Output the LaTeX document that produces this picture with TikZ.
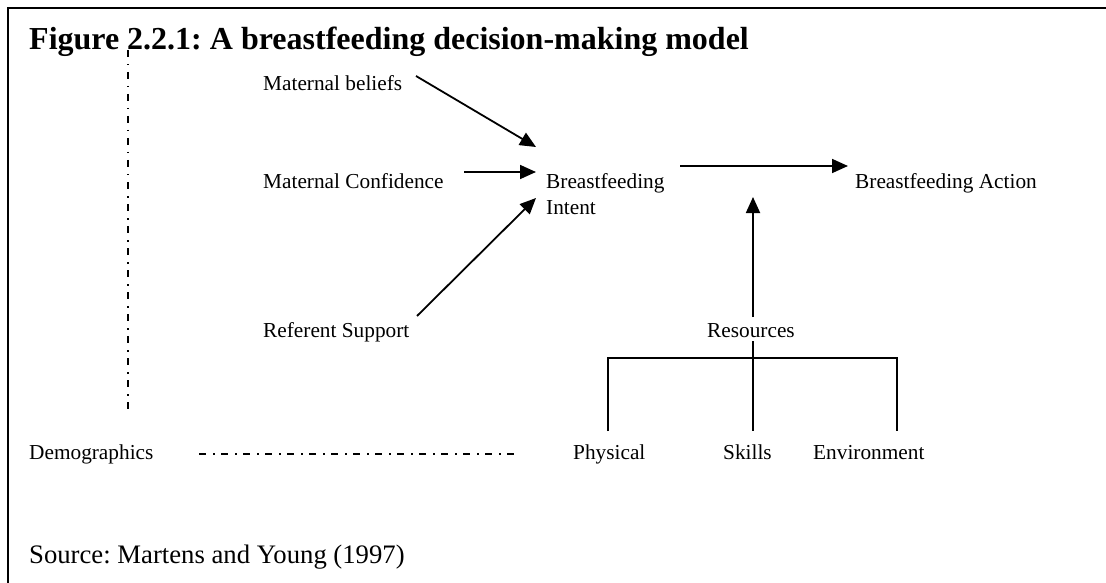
\documentclass[tikz,border=0pt]{standalone}
\usepackage{fontspec}
\setmainfont{Liberation Serif}
\usetikzlibrary{arrows.meta}
\frenchspacing
\begin{document}
\begin{tikzpicture}[x=1pt,y=-1pt,
  lbl/.style={anchor=base west,inner sep=0pt,font=\fontsize{21.3}{25}\selectfont},
  ttl/.style={anchor=base west,inner sep=0pt,font=\bfseries\fontsize{32}{38}\selectfont},
  src/.style={anchor=base west,inner sep=0pt,font=\fontsize{26.7}{32}\selectfont},
  arr/.style={line width=1.8pt,-{Triangle[length=16pt,width=14pt]}},
  ln/.style={line width=1.8pt},
  dashdot/.style={line width=1.4pt,dash pattern=on 7pt off 7pt on 1.5pt off 6.5pt}]
\useasboundingbox (0,0) rectangle (1106,583);
% frame (top and left edges only)
\draw[line width=2pt] (8,583) -- (8,8) -- (1106,8);

% title
\node[ttl] (title) at (29,50) {Figure 2.2.1: A breastfeeding decision-making model};

% labels
\node[lbl] (mb)  at (263,91)  {Maternal beliefs};
\node[lbl] (mc)  at (263,189) {Maternal Confidence};
\node[lbl] (rs)  at (263,337) {Referent Support};
\node[lbl] (bi1) at (546,189) {Breastfeeding};
\node[lbl] (bi2) at (546,214) {Intent};
\node[lbl] (ba)  at (855,189) {Breastfeeding Action};
\node[lbl] (res) at (707,337) {Resources};
\node[lbl] (phy) at (573,459) {Physical};
\node[lbl] (ski) at (723,459) {Skills};
\node[lbl] (env) at (813,459) {Environment};
\node[lbl] (dem) at (29,459)  {Demographics};
\node[src] (source) at (29,563) {Source: Martens and Young (1997)};

% connector end points
\coordinate (mbOut) at (416,76);   \coordinate (mbIn) at (536,147);
\coordinate (mcOut) at (464,172);  \coordinate (mcIn) at (536,172);
\coordinate (rsOut) at (417,316);  \coordinate (rsIn) at (536,198);
\coordinate (biOut) at (680,166);  \coordinate (baIn) at (848,166);
\coordinate (resOut) at (753,317); \coordinate (resIn) at (753,197);
\coordinate (brTop) at (753,341);
\coordinate (brL) at (608,358);    \coordinate (brR) at (897,358);
\coordinate (phyTop) at (608,431); \coordinate (skiTop) at (753,431);
\coordinate (envTop) at (897,431);
\coordinate (vTop) at (128,50);    \coordinate (vBot) at (128,410);
\coordinate (hL) at (199,454);     \coordinate (hR) at (514,454);

% arrows
\draw[arr] (mbOut) -- (mbIn);
\draw[arr] (mcOut) -- (mcIn);
\draw[arr] (rsOut) -- (rsIn);
\draw[arr] (biOut) -- (baIn);
\draw[arr] (resOut) -- (resIn);

% resources bracket
\draw[ln] (phyTop) -- (brL) -- (brR) -- (envTop);
\draw[ln] (brTop) -- (skiTop);

% demographics lines
\draw[dashdot] (vTop) -- (vBot);
\draw[dashdot] (hL) -- (hR);
\end{tikzpicture}
\end{document}
